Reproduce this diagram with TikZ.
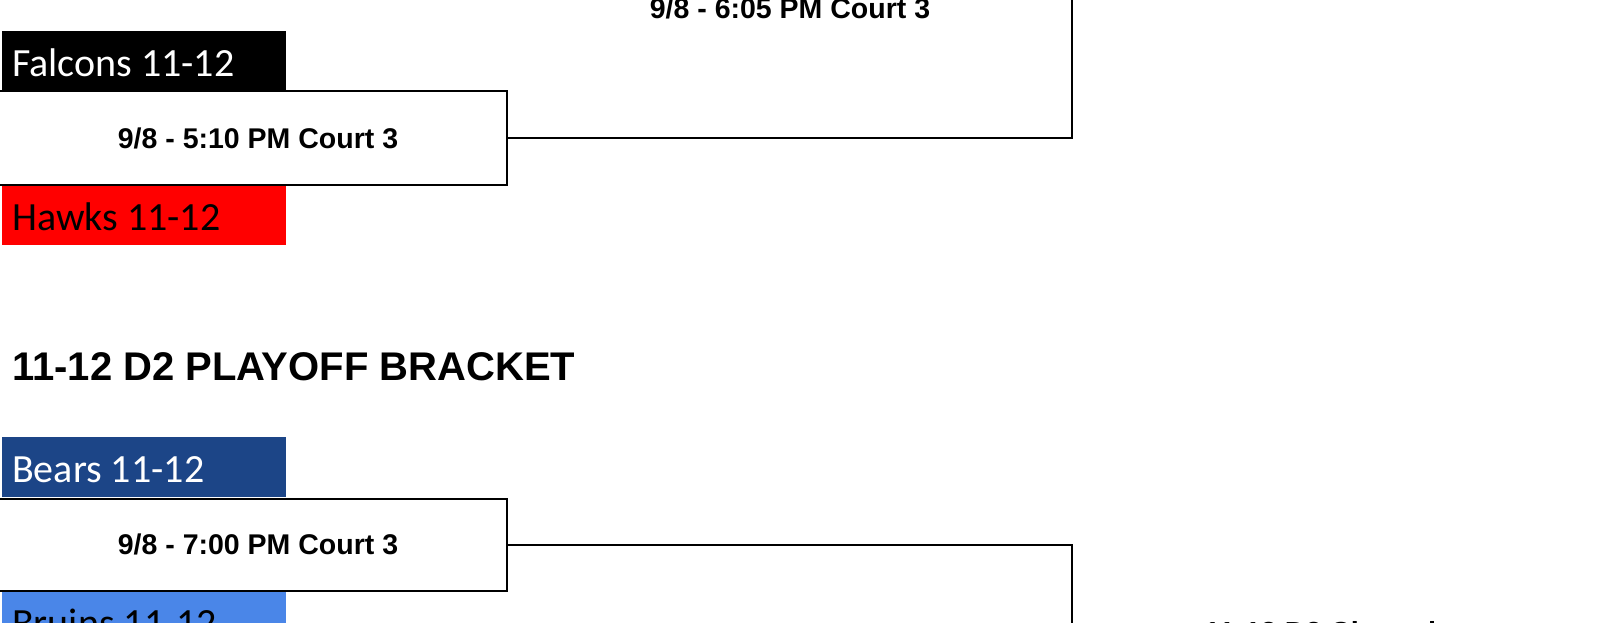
\documentclass[tikz,border=0pt]{standalone}
\usepackage{fontspec}
\newfontfamily\teamfont{Carlito}
\newfontfamily\arialfont{Liberation Sans}
\definecolor{bearsblue}{HTML}{1C4587}
\definecolor{bruinsblue}{HTML}{4A86E8}
\definecolor{hawksred}{HTML}{FF0000}
\tikzset{
  teambox/.style={rectangle, inner sep=0pt, outer sep=0pt, minimum width=283.5pt, minimum height=60pt, anchor=north west},
  teamlabel/.style={anchor=base west, inner sep=0pt, font=\teamfont\fontsize{40}{40}\selectfont},
  matchbox/.style={rectangle, draw=black, line width=2pt, fill=white, inner sep=0pt, outer sep=0pt, anchor=north west},
  matchlabel/.style={anchor=base, inner sep=0pt, font=\arialfont\bfseries\fontsize{28.5}{28.5}\selectfont},
  conn/.style={draw=black, line width=2pt},
}
\begin{document}
\begin{tikzpicture}[x=1pt,y=-1pt]
\useasboundingbox (0,0) rectangle (1600,623);
\clip (0,0) rectangle (1600,623);
\fill[white] (0,0) rectangle (1600,623);

% top bracket
\coordinate (topend) at (1072,-5);
\node[matchlabel] (sf1) at (790,19) {9/8 - 6:05 PM Court 3};

\node[teambox, fill=black] (falcons) at (2,31.4) {};
\node[teamlabel, text=white] (falconsl) at (12,77) {Falcons 11-12};
\node[teambox, fill=hawksred] (hawks) at (2,185) {};
\node[teamlabel, text=black] (hawksl) at (12,230.7) {Hawks 11-12};
\node[matchbox, minimum width=508.5pt, minimum height=93pt] (m1) at (-2,91.5) {};
\node[matchlabel] (m1l) at (258,148) {9/8 - 5:10 PM Court 3};
\draw[conn] (m1.east) -| (topend);

% title
\node[anchor=base west, inner sep=0pt, font=\arialfont\bfseries\fontsize{40}{40}\selectfont] (title) at (12,380) {11-12 D2 PLAYOFF BRACKET};

% bottom bracket
\node[teambox, fill=bearsblue] (bears) at (2,437) {};
\node[teamlabel, text=white] (bearsl) at (12,482.7) {Bears 11-12};
\node[teambox, fill=bruinsblue] (bruins) at (2,591) {};
\node[teamlabel, text=black] (bruinsl) at (12,636.7) {Bruins 11-12};
\node[matchbox, minimum width=508.5pt, minimum height=92.5pt] (m2) at (-2,498.5) {};
\node[matchlabel] (m2l) at (258,554.5) {9/8 - 7:00 PM Court 3};
\coordinate (botend) at (1072,640);
\draw[conn] (m2.east) -| (botend);

\node[anchor=base west, inner sep=0pt, font=\arialfont\bfseries\fontsize{29}{29}\selectfont] (champ) at (1204,642.5) {11-12 D2 Champion};
\end{tikzpicture}
\end{document}
